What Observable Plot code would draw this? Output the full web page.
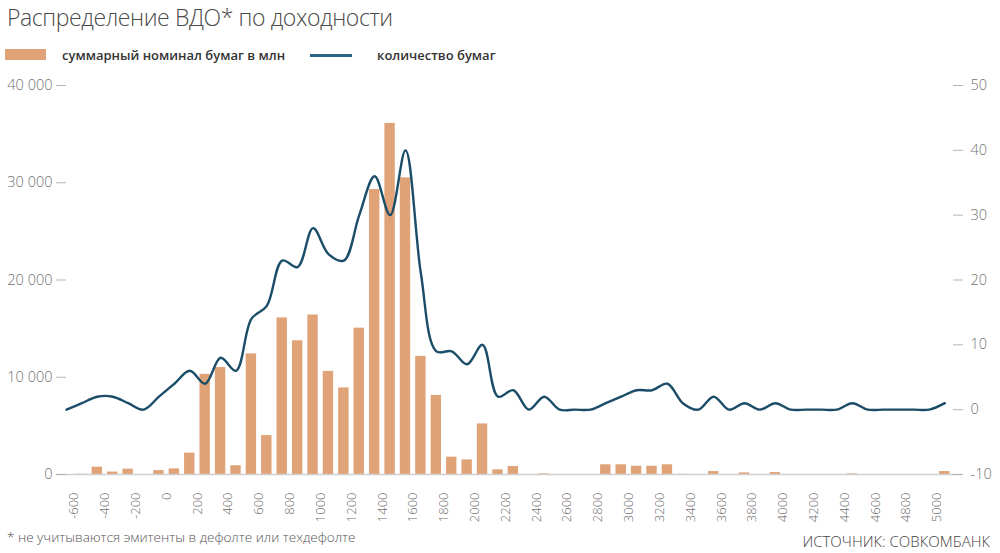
<!DOCTYPE html>
<html lang="ru">
<head>
<meta charset="utf-8">
<script src="https://cdn.jsdelivr.net/npm/d3@7"></script>
<script src="https://cdn.jsdelivr.net/npm/@observablehq/plot@0.6"></script>
<style>
  html, body { margin: 0; padding: 0; background: #fff; }
  body { width: 1000px; height: 553px; position: relative; overflow: hidden; font-family: "Open Sans", "Noto Sans", sans-serif; }
  .title { position: absolute; left: 7px; top: 2px; font-size: 23px; letter-spacing: -0.4px; line-height: 30px; font-weight: 300; color: #4a4a4a; white-space: nowrap; }
  .legend-item { position: absolute; top: 46px; height: 18px; font-size: 13px; line-height: 18px; font-weight: 600; color: #333; white-space: nowrap; }
  .sw-bar { position: absolute; left: 5px; top: 49px; width: 41px; height: 11px; }
  .sw-line { position: absolute; left: 310px; top: 54px; width: 42px; height: 3px; }
  #chart { position: absolute; left: 0; top: 70px; }
  .note { position: absolute; left: 7px; top: 527px; font-size: 13.5px; line-height: 20px; font-weight: 300; color: #555; white-space: nowrap; }
  .source { position: absolute; right: 10px; top: 530px; font-size: 15px; line-height: 22px; font-weight: 300; color: #444; white-space: nowrap; }
</style>
</head>
<body>
<div class="title">Распределение ВДО* по доходности</div>
<div class="sw-bar" id="swBar"></div>
<div class="legend-item" style="left:62px">суммарный номинал бумаг в млн</div>
<div class="sw-line" id="swLine"></div>
<div class="legend-item" style="left:377px">количество бумаг</div>
<div id="chart"></div>
<div class="note">* не учитываются эмитенты в дефолте или техдефолте</div>
<div class="source">ИСТОЧНИК: СОВКОМБАНК</div>
<script>
// Yield bins (lower edge of each 100-wide bin)
const yieldBins = [
  -700, -600, -500, -400, -300, -200, -100, 0, 100, 200,
  300, 400, 500, 600, 700, 800, 900, 1000, 1100, 1200,
  1300, 1400, 1500, 1600, 1700, 1800, 1900, 2000, 2100, 2200,
  2300, 2400, 2500, 2600, 2700, 2800, 2900, 3000, 3100, 3200,
  3300, 3400, 3500, 3600, 3700, 3800, 3900, 4000, 4100, 4200,
  4300, 4400, 4500, 4600, 4700, 4800, 4900, 5000
];

// Total face value of bonds in each bin, mln
const nominal = [
  0, 30, 750, 250, 550, 0, 400, 580, 2200, 10300,
  11000, 900, 12400, 4000, 16100, 13750, 16400, 10600, 8900, 15050,
  29300, 36100, 30500, 12150, 8130, 1780, 1500, 5200, 480, 820,
  0, 60, 0, 0, 0, 1000, 1000, 850, 850, 1000,
  20, 0, 300, 0, 170, 0, 200, 0, 0, 0,
  0, 60, 0, 0, 0, 0, 0, 300
];

// Number of bonds in each bin
const bondCount = [
  0, 1, 2, 2, 1, 0, 2, 4, 6, 4,
  8, 6, 14, 16, 23, 22, 28, 24, 23, 30,
  36, 30, 40, 21, 9, 9, 7, 10, 2, 3,
  0, 2, 0, 0, 0, 1, 2, 3, 3, 4,
  1, 0, 2, 0, 1, 0, 1, 0, 0, 0,
  0, 1, 0, 0, 0, 0, 0, 1
];

// Axis ticks and their labels
const xTicks = [
  -600, -400, -200, 0, 200, 400, 600, 800, 1000, 1200, 1400, 1600, 1800, 2000,
  2200, 2400, 2600, 2800, 3000, 3200, 3400, 3600, 3800, 4000, 4200, 4400, 4600, 4800, 5000
];
const leftTicks = [0, 10000, 20000, 30000, 40000];
const leftTickLabels = ["0", "10 000", "20 000", "30 000", "40 000"];
const rightTicks = [-10, 0, 10, 20, 30, 40, 50];
const rightTickLabels = ["-10", "0", "10", "20", "30", "40", "50"];

const barColor = "#E0A277";
const lineColor = "#1b4d69";
const axisText = "#707070";
const axisTick = "#b5b5b5";

document.getElementById("swBar").style.background = barColor;
document.getElementById("swLine").style.background = "#2a6485";

// Right axis (count, -10..50) shares the frame with the left axis (0..40 000)
const leftMax = 40000, rightMin = -10, rightMax = 50;
const toLeft = c => (c - rightMin) * leftMax / (rightMax - rightMin);
const rightPositions = rightTicks.map(toLeft);

const data = yieldBins.map((b, i) => ({bin: b, nominal: nominal[i], count: bondCount[i]}));

const chart = Plot.plot({
  width: 1000,
  height: 460,
  marginTop: 15,
  marginBottom: 56,
  marginLeft: 66,
  marginRight: 48,
  style: {fontFamily: "'Open Sans', 'Noto Sans', sans-serif", fontWeight: 300, background: "transparent"},
  x: {type: "linear", domain: [-650, 5100], label: null},
  y: {domain: [0, leftMax], label: null},
  marks: [
    Plot.rectY(data, {
      x1: "bin", x2: d => d.bin + 100, y: "nominal",
      fill: barColor, insetLeft: 2.5, insetRight: 2.5
    }),
    Plot.ruleY([0], {stroke: "#cfcfcf", strokeWidth: 1.5, insetLeft: -9, insetRight: -10}),
    Plot.line(data, {
      x: d => d.bin + 50, y: d => toLeft(d.count),
      curve: "catmull-rom", stroke: lineColor, strokeWidth: 2.4
    }),
    Plot.axisY(leftTicks, {
      anchor: "left", label: null, tickSize: 10, tickPadding: 4, fontSize: 14.5,
      stroke: axisTick, fill: axisText,
      tickFormat: d => leftTickLabels[leftTicks.indexOf(d)]
    }),
    Plot.axisY(rightPositions, {
      anchor: "right", label: null, tickSize: 10, tickPadding: 8, fontSize: 14.5,
      stroke: axisTick, fill: axisText,
      tickFormat: d => rightTickLabels[rightPositions.indexOf(d)]
    }),
    Plot.axisX(xTicks, {
      anchor: "bottom", label: null, tickSize: 0, tickPadding: 18, tickRotate: -90, fontSize: 13,
      fill: axisText, tickFormat: d => String(d)
    })
  ]
});
document.getElementById("chart").append(chart);
</script>
</body>
</html>
